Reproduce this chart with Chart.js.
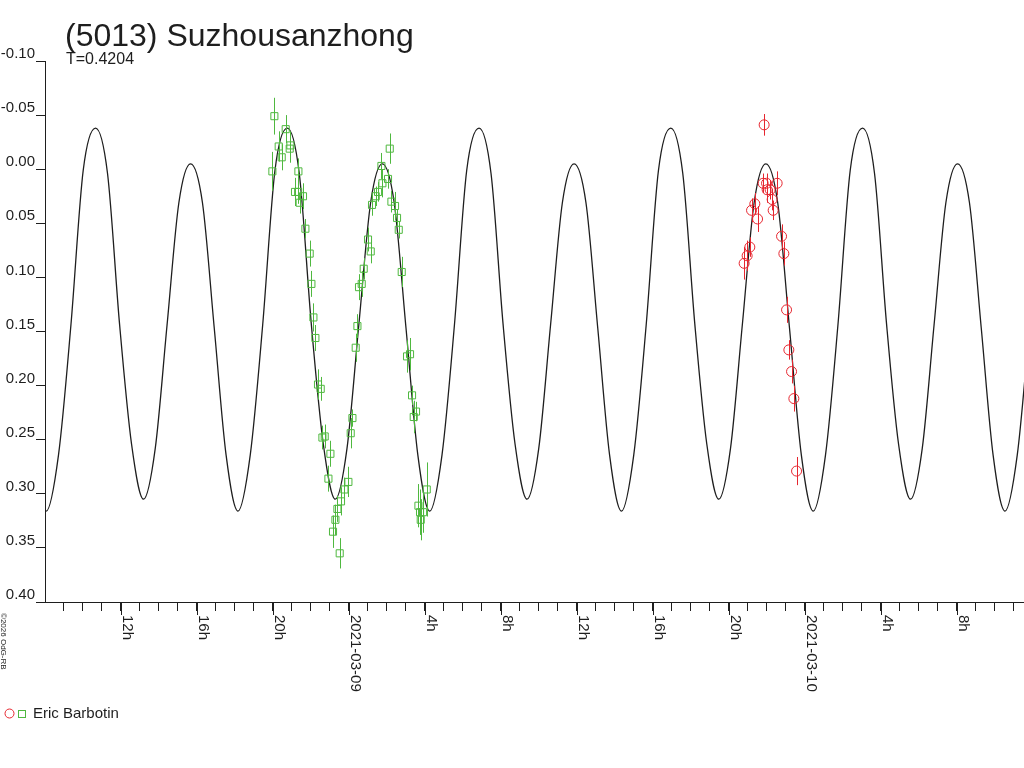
<!DOCTYPE html>
<html>
<head>
<meta charset="utf-8">
<title>(5013) Suzhousanzhong</title>
<script src="https://cdn.jsdelivr.net/npm/chart.js@4/dist/chart.umd.min.js"></script>
<style>
  html, body { margin: 0; padding: 0; background: #fff; }
  #wrap { width: 1024px; height: 768px; }
</style>
</head>
<body>
<div id="wrap"><canvas id="lc" width="1024" height="768"></canvas></div>
<script>
// time axis in hours counted from 2021-03-08 00:00
var titleText = '(5013) Suzhousanzhong';
var periodText = 'T=0.4204';
var observer = 'Eric Barbotin';
var dayLabels = ['2021-03-08', '2021-03-09', '2021-03-10'];
var magTicks = [-0.10, -0.05, 0.00, 0.05, 0.10, 0.15, 0.20, 0.25, 0.30, 0.35, 0.40];

// fitted lightcurve
var curveHours = [7.458,
  8.084, 8.731, 9.384, 10.031, 10.679, 11.310, 11.942, 12.573, 13.205, 13.821, 14.442, 15.063, 15.679, 16.305, 16.926, 17.547,
  18.173, 18.820, 19.473, 20.120, 20.768, 21.399, 22.031, 22.662, 23.294, 23.910, 24.531, 25.152, 25.768, 26.394, 27.015, 27.636,
  28.262, 28.909, 29.562, 30.209, 30.857, 31.488, 32.120, 32.751, 33.383, 33.999, 34.620, 35.241, 35.857, 36.483, 37.104, 37.725,
  38.351, 38.998, 39.651, 40.298, 40.946, 41.577, 42.209, 42.840, 43.472, 44.088, 44.709, 45.330, 45.946, 46.572, 47.193, 47.814,
  48.440, 49.087, 49.740, 50.387, 51.035, 51.666, 52.298, 52.929, 53.561, 54.177, 54.798, 55.419, 56.035, 56.661, 57.282, 57.903,
  58.529, 59.176, 59.829];
var curveMag = [0.264,
  0.316, 0.264, 0.144, 0.001, -0.038, 0.004, 0.143, 0.254, 0.305, 0.258, 0.144, 0.031, -0.005, 0.031, 0.147, 0.264,
  0.316, 0.264, 0.144, 0.001, -0.038, 0.004, 0.143, 0.254, 0.305, 0.258, 0.144, 0.031, -0.005, 0.031, 0.147, 0.264,
  0.316, 0.264, 0.144, 0.001, -0.038, 0.004, 0.143, 0.254, 0.305, 0.258, 0.144, 0.031, -0.005, 0.031, 0.147, 0.264,
  0.316, 0.264, 0.144, 0.001, -0.038, 0.004, 0.143, 0.254, 0.305, 0.258, 0.144, 0.031, -0.005, 0.031, 0.147, 0.264,
  0.316, 0.264, 0.144, 0.001, -0.038, 0.004, 0.143, 0.254, 0.305, 0.258, 0.144, 0.031, -0.005, 0.031, 0.147, 0.264,
  0.316, 0.264, 0.144];

// night 1 (green squares)
var greenHours = [20.089, 20.684, 20.316, 20.474, 20.932, 20.895, 19.984, 21.353, 21.174, 21.340,
  21.595, 21.421, 21.721, 21.947, 22.037, 22.142, 22.247, 22.384, 22.526, 22.616,
  22.737, 23.037, 22.932, 23.405, 23.595, 23.300, 23.174, 23.526, 23.774, 23.984,
  24.105, 24.195, 24.368, 24.458, 26.158, 25.721, 26.068, 25.774, 25.542, 25.421,
  25.226, 26.247, 26.437, 26.542, 26.632, 25.016, 25.158, 24.789, 24.684, 24.542,
  26.789, 27.068, 27.226, 27.332, 27.542, 27.421, 28.105, 27.668, 27.911, 27.753, 27.789];
var greenMag = [-0.049, -0.037, -0.021, -0.011, -0.022, -0.019, 0.002, 0.002, 0.021, 0.021,
  0.025, 0.031, 0.055, 0.078, 0.106, 0.137, 0.156, 0.199, 0.203, 0.248,
  0.247, 0.263, 0.286, 0.314, 0.307, 0.324, 0.335, 0.355, 0.296, 0.289,
  0.244, 0.230, 0.165, 0.145, -0.019, -0.003, 0.009, 0.013, 0.021, 0.025,
  0.033, 0.030, 0.034, 0.045, 0.056, 0.065, 0.076, 0.092, 0.106, 0.109,
  0.095, 0.173, 0.171, 0.209, 0.224, 0.229, 0.296, 0.311, 0.317, 0.317, 0.324];
var greenErr = [0.017, 0.013, 0.014, 0.012, 0.013, 0.013, 0.018, 0.012, 0.013, 0.011,
  0.012, 0.010, 0.009, 0.012, 0.012, 0.013, 0.012, 0.014, 0.011, 0.011,
  0.011, 0.012, 0.012, 0.012, 0.013, 0.014, 0.015, 0.014, 0.011, 0.014,
  0.014, 0.008, 0.013, 0.011, 0.014, 0.012, 0.009, 0.013, 0.009, 0.009,
  0.010, 0.010, 0.013, 0.008, 0.008, 0.011, 0.011, 0.010, 0.012, 0.012,
  0.014, 0.015, 0.015, 0.009, 0.009, 0.015, 0.025, 0.020, 0.019, 0.021, 0.019];

// night 2 (red circles)
var redHours = [45.858, 45.805, 45.984, 46.542, 46.016, 46.174, 46.279, 45.368, 46.332, 45.195,
  45.511, 46.774, 45.105, 46.895, 44.963, 44.805, 47.037, 47.158, 47.300, 47.421, 47.563];
var redMag = [-0.041, 0.013, 0.013, 0.013, 0.019, 0.019, 0.028, 0.032, 0.038, 0.038,
  0.046, 0.062, 0.072, 0.078, 0.080, 0.087, 0.130, 0.167, 0.187, 0.212, 0.279];
var redErr = [0.010, 0.009, 0.009, 0.011, 0.012, 0.009, 0.010, 0.010, 0.009, 0.011,
  0.012, 0.011, 0.009, 0.011, 0.014, 0.015, 0.012, 0.009, 0.011, 0.012, 0.013];

var GREEN = '#4fb83f';
var RED = '#e6262f';
var INK = '#1e1e1e';
var FONT = '"Liberation Sans", Arial, sans-serif';

function pts(xs, ys) {
  return xs.map(function (v, i) { return {x: v, y: ys[i]}; });
}

// vertical error bars through the library scales
var errorBars = {
  id: 'errorBars',
  afterDatasetsDraw: function (chart) {
    var ctx = chart.ctx, xs = chart.scales.x, ys = chart.scales.y;
    var sets = [[greenHours, greenMag, greenErr, GREEN], [redHours, redMag, redErr, RED]];
    ctx.save();
    ctx.lineWidth = 1;
    sets.forEach(function (s) {
      ctx.strokeStyle = s[3];
      s[0].forEach(function (h, i) {
        var px = Math.round(xs.getPixelForValue(h)) + 0.5;
        ctx.beginPath();
        ctx.moveTo(px, ys.getPixelForValue(s[1][i] - s[2][i]));
        ctx.lineTo(px, ys.getPixelForValue(s[1][i] + s[2][i]));
        ctx.stroke();
      });
    });
    ctx.restore();
  }
};

// titles, long hour ticks with rotated labels, legend, credit
var decor = {
  id: 'decor',
  afterDraw: function (chart) {
    var ctx = chart.ctx, xs = chart.scales.x, area = chart.chartArea;
    ctx.save();
    ctx.fillStyle = INK;
    ctx.textAlign = 'left';
    ctx.textBaseline = 'alphabetic';
    ctx.font = '32px ' + FONT;
    ctx.fillText(titleText, 65, 46);
    ctx.font = '16px ' + FONT;
    ctx.fillText(periodText, 66, 64);

    ctx.strokeStyle = INK;
    ctx.lineWidth = 1;
    xs.ticks.forEach(function (t) {
      var v = Math.round(t.value);
      if (v % 4 !== 0) return;
      var px = Math.round(xs.getPixelForValue(v)) + 0.5;
      ctx.beginPath();
      ctx.moveTo(px, area.bottom);
      ctx.lineTo(px, area.bottom + 13);
      ctx.stroke();
      var txt = (v % 24 === 0) ? dayLabels[v / 24] : (v % 24) + 'h';
      ctx.save();
      ctx.translate(px + 1, area.bottom + 13);
      ctx.rotate(Math.PI / 2);
      ctx.font = '15px ' + FONT;
      ctx.fillText(txt, 0, 0);
      ctx.restore();
    });

    // legend
    ctx.strokeStyle = RED;
    ctx.beginPath();
    ctx.arc(9.5, 713.5, 4.5, 0, Math.PI * 2);
    ctx.stroke();
    ctx.strokeStyle = GREEN;
    ctx.strokeRect(18.5, 710.5, 7, 7);
    ctx.fillStyle = INK;
    ctx.font = '15px ' + FONT;
    ctx.fillText(observer, 33, 718);

    // credit
    ctx.save();
    ctx.translate(1, 613);
    ctx.rotate(Math.PI / 2);
    ctx.font = '8px ' + FONT;
    ctx.fillText('\u00A92026 OdG-RB', 0, 0);
    ctx.restore();
    ctx.restore();
  }
};

new Chart(document.getElementById('lc'), {
  type: 'scatter',
  data: {
    datasets: [{
      label: 'fit',
      data: pts(curveHours, curveMag),
      showLine: true,
      borderColor: INK,
      borderWidth: 1.3,
      pointRadius: 0,
      cubicInterpolationMode: 'monotone',
      order: 3
    }, {
      label: observer,
      data: pts(greenHours, greenMag),
      pointStyle: 'rect',
      pointRadius: 5,
      borderColor: GREEN,
      backgroundColor: 'rgba(0,0,0,0)',
      borderWidth: 1,
      order: 2
    }, {
      label: observer,
      data: pts(redHours, redMag),
      pointStyle: 'circle',
      pointRadius: 5,
      borderColor: RED,
      backgroundColor: 'rgba(0,0,0,0)',
      borderWidth: 1,
      order: 1
    }]
  },
  options: {
    responsive: false,
    devicePixelRatio: 1,
    animation: false,
    events: [],
    layout: { autoPadding: false, padding: { top: 61, right: 0, bottom: 0, left: 0 } },
    plugins: {
      legend: { display: false },
      tooltip: { enabled: false },
      title: { display: false }
    },
    scales: {
      x: {
        type: 'linear',
        min: 8.02,
        max: 59.53,
        afterFit: function (s) { s.height = 166; },
        ticks: { display: false, stepSize: 1, includeBounds: false },
        grid: { drawOnChartArea: false, drawTicks: true, tickLength: 9, color: INK },
        border: { display: true, color: INK }
      },
      y: {
        type: 'linear',
        reverse: true,
        min: -0.10,
        max: 0.40,
        afterFit: function (s) { s.width = 45; },
        afterBuildTicks: function (s) { s.ticks = magTicks.map(function (v) { return {value: v}; }); },
        ticks: {
          color: INK,
          padding: 1,
          labelOffset: -7,
          font: { family: FONT, size: 15 },
          callback: function (v) { return Math.abs(v) < 1e-9 ? '0.00' : Number(v).toFixed(2); }
        },
        grid: { drawOnChartArea: false, drawTicks: true, tickLength: 9, color: INK },
        border: { display: true, color: INK }
      }
    }
  },
  plugins: [errorBars, decor]
});
</script>
</body>
</html>
